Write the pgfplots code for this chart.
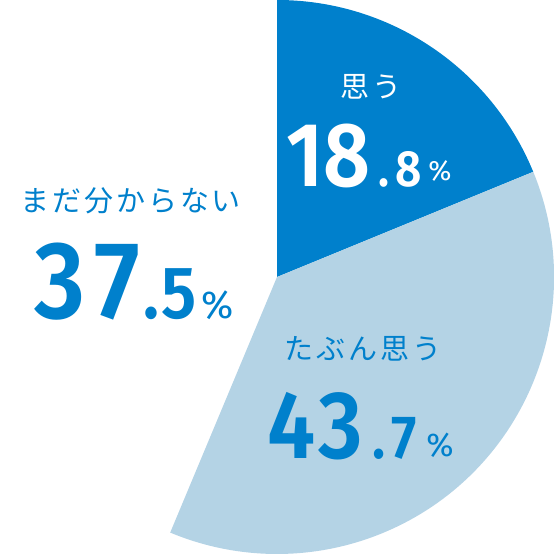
\documentclass[border=0pt]{standalone}
\usepackage{pgfplots}
\pgfplotsset{compat=1.18}
\usepackage{pgfplotstable}
\usepackage{fontspec}
\setmainfont{Fira Sans}
\newfontfamily\jp[LetterSpace=10]{Noto Sans CJK JP}
\IfFontExistsTF{Fira Sans SemiBold}
  {\newfontfamily\num[BoldFont={Fira Sans SemiBold}]{Fira Sans}}
  {\newfontfamily\num{Fira Sans}}
\definecolor{dblue}{RGB}{0,128,204}
\definecolor{lblue}{RGB}{180,211,229}

% slice shares in drawing order (clockwise from top)
\pgfplotstableread{
share
18.8
37.5
43.7
}\slices

% one glyph of a figure: colour, x, baseline, size, glyph
\newcommand\g[5]{\node[anchor=base,text=#1] at (axis cs:#2,#3)
  {\scalebox{0.9}[1]{\num\bfseries\fontsize{#4}{#4}\selectfont #5}};}
\newcommand\pc[4]{\node[anchor=base,text=#1] at (axis cs:#2,#3)
  {\num\fontsize{#4}{#4}\selectfont\%};}

\begin{document}
\begin{tikzpicture}
\pgfplotstablegetelem{0}{share}\of\slices \let\sA\pgfplotsretval
\pgfplotstablegetelem{1}{share}\of\slices \let\sB\pgfplotsretval
\pgfmathsetmacro\aA{90-3.6*\sA}
\pgfmathsetmacro\aB{\aA-3.6*\sB}
\begin{axis}[x=1pt,y=1pt,xmin=0,xmax=554,ymin=0,ymax=554,
  scale only axis,hide axis,clip=false,at={(0,0)},anchor=origin,
  every node/.append style={inner sep=0}]
\fill[dblue] (axis cs:277,277) -- (axis cs:277,554)
  arc[start angle=90,end angle=\aA,radius=277pt] -- cycle;
\fill[lblue] (axis cs:277,277) -- ++(\aA:277pt)
  arc[start angle=\aA,end angle=\aB,radius=277pt] -- cycle;

% 思う 18.8%
\node[anchor=west,text=white,font=\jp\fontsize{29}{29}\selectfont]
  at (axis cs:337,467) {思う};
\g{white}{305}{367}{91}{1}
\g{white}{347.5}{367}{91}{8}
\g{white}{384.5}{367}{51}{.}
\g{white}{409}{367}{51}{8}
\pc{white}{440}{373}{28}

% まだ分からない 37.5%
\node[anchor=west,text=dblue,font=\jp\fontsize{29}{29}\selectfont]
  at (axis cs:17,353) {まだ分からない};
\g{dblue}{60}{235}{110}{3}
\g{dblue}{117.5}{235}{110}{7}
\g{dblue}{151.5}{235}{74}{.}
\g{dblue}{179}{235}{74}{5}
\pc{dblue}{217.5}{235}{39}

% たぶん思う 43.7%
\node[anchor=west,text=dblue,font=\jp\fontsize{29}{29}\selectfont]
  at (axis cs:281,205) {たぶん思う};
\g{dblue}{291.5}{95}{96}{4}
\g{dblue}{341}{95}{96}{3}
\g{dblue}{379.5}{95}{61}{.}
\g{dblue}{404.5}{95}{61}{7}
\pc{dblue}{440}{97}{33}
\end{axis}
\pgfresetboundingbox
\path (0,0) rectangle (554pt,554pt);
\end{tikzpicture}
\end{document}
